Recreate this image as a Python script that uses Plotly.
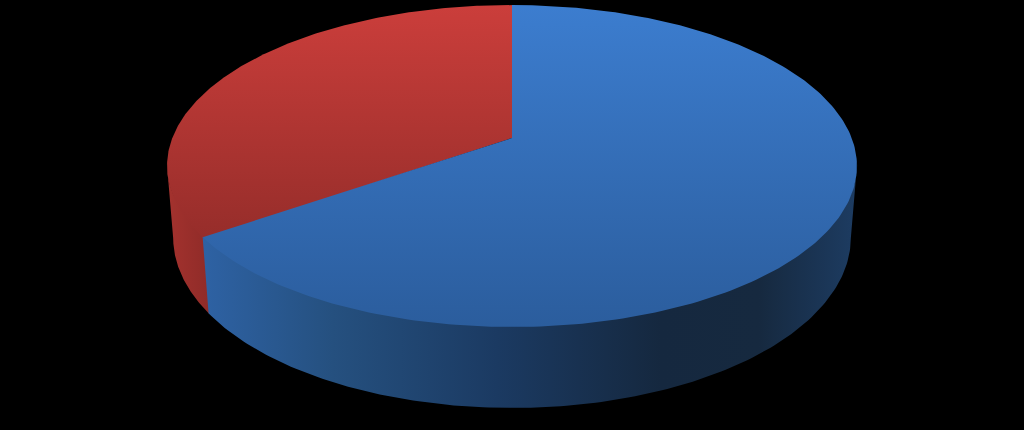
import numpy as np
import plotly.graph_objects as go

# slice shares, starting at 12 o'clock and running anticlockwise on screen
labels = ['Red', 'Blue']
shares = [34.7, 65.3]

top_colors = {'Red': ['#cb3e3b', '#962d2a'], 'Blue': ['#3c7dcf', '#2b5d9d']}
wall_colors = {
    'Red': [[0, '#a4322e'], [1, '#8f2b28']],
    'Blue': [[0, '#2e62a4'], [0.2, '#25507f'], [0.45, '#1b3a62'],
             [0.7, '#15283f'], [0.85, '#16293f'], [1, '#1d3c62']],
}

# perspective of the tilted pie, in page pixels
CX, CY = 512, 138
R = 339.7
TILT = 0.1739
FALL = 132.13
DEPTH = 74
SHRINK = 0.0175
OVERLAP = np.radians(0.4)  # red runs under the next face, no dark seam


def project(theta, h=0.0):
    t, s = np.cos(theta), -np.sin(theta)
    w = 1 + TILT * t + SHRINK * h
    return CX + R * s / w, (CY - FALL * t + DEPTH * h) / w


def face(x, y, stops, kind):
    fig.add_trace(go.Scatter(
        x=x, y=y,
        mode='lines', line=dict(width=0),
        fill='toself', fillgradient=dict(type=kind, colorscale=stops),
        hoverinfo='skip', showlegend=False
    ))


fig = go.Figure()

# slice limits in radians
edges = np.radians(np.cumsum([0] + shares) * 3.6)
spans = dict(zip(labels, zip(edges[:-1], edges[1:])))

# widest points of the disc, where the side walls start and stop
side = np.arccos(-TILT)
wall_spans = {'Red': (side, spans['Red'][1] + OVERLAP),
              'Blue': (spans['Blue'][0], 2 * np.pi - side)}

# side walls first, the top faces cover what is hidden
for name in labels:
    a = np.linspace(*wall_spans[name], 160)
    x1, y1 = project(a, -0.03)
    x2, y2 = project(a[::-1], 1.0)
    face(np.r_[x1, x2], np.r_[y1, y2], wall_colors[name], 'horizontal')

# top faces
for name in labels:
    start, stop = spans[name]
    if name == 'Red':
        start, stop = start - OVERLAP, stop + OVERLAP
    a = np.linspace(start, stop, 240)
    x, y = project(a)
    c0, c1 = top_colors[name]
    face(np.r_[x, CX, x[0]], np.r_[y, CY, y[0]], [[0, c1], [1, c0]], 'vertical')

fig.update_layout(
    width=1024, height=430,
    margin=dict(l=0, r=0, t=0, b=0),
    paper_bgcolor='black', plot_bgcolor='black',
    xaxis=dict(range=[0, 1024], visible=False, fixedrange=True),
    yaxis=dict(range=[430, 0], visible=False, fixedrange=True),
)

# page default margin would shift the chart by 8px
fig.write_html(
    "out.html",
    config=dict(displayModeBar=False),
    post_script="document.body.style.margin='0';"
                "document.body.style.background='black';"
                "document.body.style.overflow='hidden';"
)
